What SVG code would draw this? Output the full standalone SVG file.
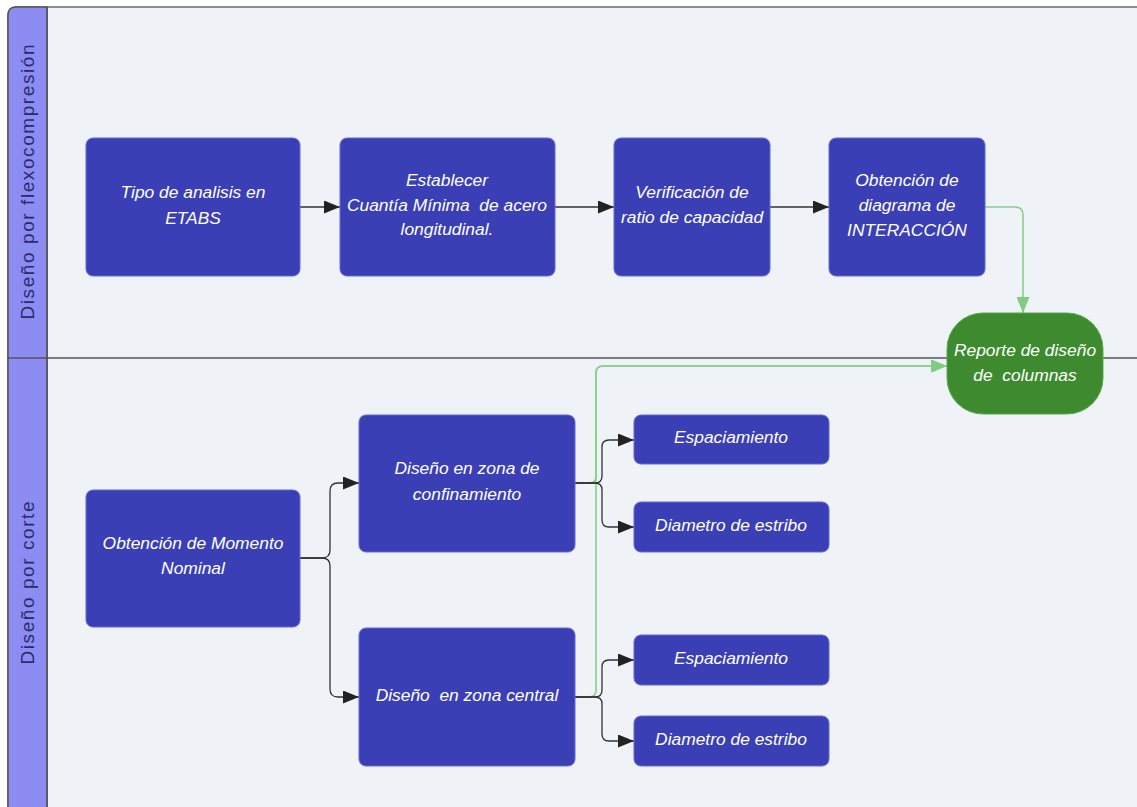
<svg xmlns="http://www.w3.org/2000/svg" width="1137" height="807" viewBox="0 0 1137 807">
<defs>
<style>
.node{fill:#3b3fb6;stroke:#6569d6;stroke-width:1}
.t{fill:#ffffff;font-family:"Liberation Sans",Arial,sans-serif;font-style:italic;font-size:17.4px;text-anchor:middle;white-space:pre}
.lane{fill:#2a2a6c;font-family:"Liberation Sans",Arial,sans-serif;font-size:19px;text-anchor:middle}
.c{fill:none;stroke:#333;stroke-width:1.3;marker-end:url(#ab)}
.g{fill:none;stroke:#86d08a;stroke-width:1.6;marker-end:url(#ag)}
</style>
<marker id="ab" markerUnits="userSpaceOnUse" markerWidth="17" markerHeight="13" refX="16" refY="6.5" orient="auto"><path d="M0,0 L16,6.5 L0,13 Z" fill="#222"/></marker>
<marker id="ag" markerUnits="userSpaceOnUse" markerWidth="17" markerHeight="13" refX="16" refY="6.5" orient="auto"><path d="M0,0 L16,6.5 L0,13 Z" fill="#7fcc82"/></marker>
</defs>
<rect x="0" y="0" width="1137" height="807" fill="#ffffff"/>
<g id="frame">
<rect x="8" y="7" width="1150" height="820" rx="8" fill="#eff2f6" stroke="#6b6b6b" stroke-width="1.5"/>
<path d="M47,7 H16 Q8,7 8,15 V827 H47 Z" fill="#8c8cf2" stroke="#555" stroke-width="1.5"/>
<line x1="47" y1="7" x2="47" y2="807" stroke="#555" stroke-width="1.5"/>
<line x1="8" y1="358" x2="1137" y2="358" stroke="#555" stroke-width="1.5"/>
<text class="lane" transform="translate(34,182) rotate(-90)" textLength="275" lengthAdjust="spacing">Diseño por flexocompresión</text>
<text class="lane" transform="translate(34,583) rotate(-90)" textLength="163" lengthAdjust="spacing">Diseño por corte</text>
</g>
<g id="connectors">
<path class="c" d="M300,207 H340"/>
<path class="c" d="M555,207 H614"/>
<path class="c" d="M770,207 H829"/>
<path class="g" d="M985,207 H1015 Q1023,207 1023,215 V313"/>
<path class="g" d="M575,483 H589 Q596,483 596,476 V373 Q596,366 603,366 H947"/>
<path class="g" d="M575,697 H589 Q596,697 596,690 V373 Q596,366 603,366 H947"/>
<path class="c" d="M300,558 H322 Q330,558 330,550 V491 Q330,483 338,483 H359"/>
<path class="c" d="M300,558 H322 Q330,558 330,566 V689 Q330,697 338,697 H359"/>
<path class="c" d="M575,483 H595 Q602,483 602,476 V447 Q602,440 609,440 H634"/>
<path class="c" d="M575,483 H595 Q602,483 602,490 V520 Q602,527 609,527 H634"/>
<path class="c" d="M575,697 H595 Q602,697 602,690 V667 Q602,660 609,660 H634"/>
<path class="c" d="M575,697 H595 Q602,697 602,704 V734 Q602,741 609,741 H634"/>
</g>
<g id="n1"><rect class="node" x="86" y="138" width="214" height="138" rx="7"/><text class="t" x="193" y="198">Tipo de analisis en</text><text class="t" x="193" y="224">ETABS</text></g>
<g id="n2"><rect class="node" x="340" y="138" width="215" height="138" rx="7"/><text class="t" x="447" y="186">Establecer</text><text class="t" x="447" y="211">Cuantía Mínima  de acero</text><text class="t" x="447" y="235">longitudinal.</text></g>
<g id="n3"><rect class="node" x="614" y="138" width="156" height="138" rx="7"/><text class="t" x="692" y="198">Verificación de</text><text class="t" x="692" y="223">ratio de capacidad</text></g>
<g id="n4"><rect class="node" x="829" y="138" width="156" height="138" rx="7"/><text class="t" x="907" y="186">Obtención de</text><text class="t" x="907" y="211">diagrama de</text><text class="t" x="907" y="236">INTERACCIÓN</text></g>
<g id="n5"><rect x="947" y="313" width="156" height="101" rx="36" fill="#3e8a2e" stroke="#5aa84a" stroke-width="1"/><text class="t" x="1025" y="356">Reporte de diseño</text><text class="t" x="1025" y="381">de  columnas</text></g>
<g id="n6"><rect class="node" x="86" y="490" width="214" height="137" rx="7"/><text class="t" x="193" y="549">Obtención de Momento</text><text class="t" x="193" y="574">Nominal</text></g>
<g id="n7"><rect class="node" x="359" y="415" width="216" height="137" rx="7"/><text class="t" x="467" y="474">Diseño en zona de</text><text class="t" x="467" y="500">confinamiento</text></g>
<g id="n8"><rect class="node" x="359" y="628" width="216" height="138" rx="7"/><text class="t" x="467" y="701">Diseño  en zona central</text></g>
<g id="n9"><rect class="node" x="634" y="415" width="195" height="49" rx="7"/><text class="t" x="731" y="443">Espaciamiento</text></g>
<g id="n10"><rect class="node" x="634" y="502" width="195" height="50" rx="7"/><text class="t" x="731" y="531">Diametro de estribo</text></g>
<g id="n11"><rect class="node" x="634" y="635" width="195" height="50" rx="7"/><text class="t" x="731" y="664">Espaciamiento</text></g>
<g id="n12"><rect class="node" x="634" y="716" width="195" height="50" rx="7"/><text class="t" x="731" y="745">Diametro de estribo</text></g>
</svg>
